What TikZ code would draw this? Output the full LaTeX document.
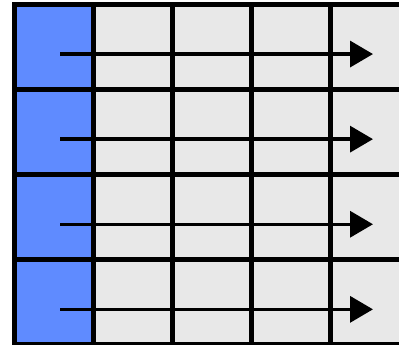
\documentclass[tikz,border=0pt]{standalone}
\usetikzlibrary{arrows.meta}

\definecolor{cellblue}{HTML}{5F8BFF}
\definecolor{cellgray}{HTML}{E8E8E8}

\tikzset{
  cell/.style={rectangle, draw=black, line width=5pt, inner sep=0pt,
    minimum width=79.1pt, minimum height=85.1pt},
  headcell/.style={cell, fill=cellblue},
  bodycell/.style={cell, fill=cellgray},
  rowarrow/.style={line width=3.5pt, -{Triangle[length=23pt,width=26pt]}}
}

\begin{document}
\begin{tikzpicture}[x=1pt,y=-1pt]
\useasboundingbox (0,0) rectangle (399,345);
\clip (0,0) rectangle (399,345);

\foreach \r in {1,...,4}{
  \node[headcell] at (54.05, {4.5+(\r-0.5)*85.1}) (c\r-1) {};
  \foreach \c in {2,...,5}{
    \node[bodycell] at ({14.5+(\c-0.5)*79.1}, {4.5+(\r-0.5)*85.1}) (c\r-\c) {};
  }
}

\foreach \r in {1,...,4}{
  \coordinate (s\r) at (60, {4.5+(\r-0.5)*85.1+7});
  \coordinate (e\r) at (373, {4.5+(\r-0.5)*85.1+7});
  \draw[rowarrow] (s\r) -- (e\r);
}

\end{tikzpicture}
\end{document}
